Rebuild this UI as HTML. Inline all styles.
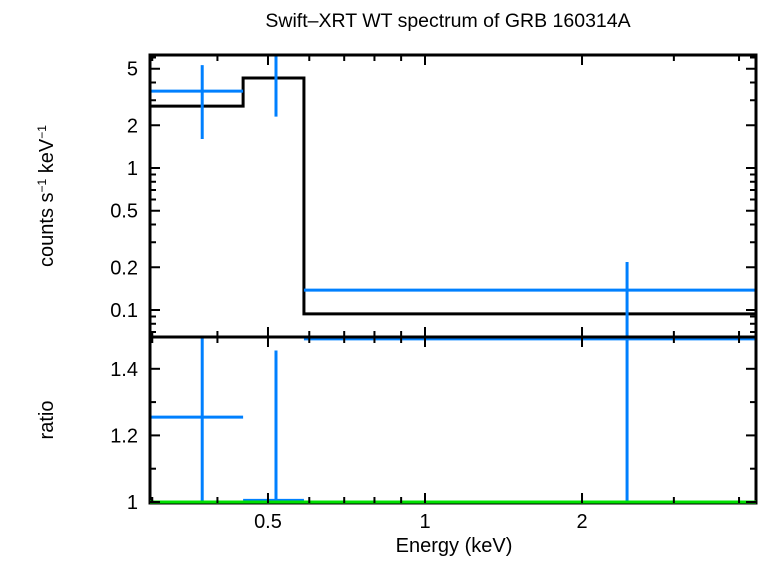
<!DOCTYPE html>
<html><head><meta charset="utf-8"><style>
body{margin:0;background:#fff;}
svg text{font-family:"Liberation Sans",sans-serif;}
</style></head><body>
<svg id="chart" width="758" height="556" xmlns="http://www.w3.org/2000/svg">
<text x="448" y="27" font-size="19.5" text-anchor="middle">Swift–XRT WT spectrum of GRB 160314A</text>
<g id="marks"></g>
<text x="454" y="552" font-size="20" text-anchor="middle">Energy (keV)</text>
<text transform="translate(53,196) rotate(-90)" font-size="20" text-anchor="middle">counts s<tspan font-size="12" dy="-7">−1</tspan><tspan dy="7"> keV</tspan><tspan font-size="12" dy="-7">−1</tspan></text>
<text transform="translate(53,420) rotate(-90)" font-size="20" text-anchor="middle">ratio</text>
</svg>
<script>
const modelLo=[0.298,0.448,0.586];
const modelHi=[0.448,0.586,4.31];
const modelVal=[2.73,4.3,0.094];
const dataE=[0.374,0.518,2.44];
const dataLo=[0.298,0.448,0.586];
const dataHi=[0.448,0.586,4.31];
const dataVal=[3.48,7.5,0.138];
const dataErrLo=[1.6,2.3,0.05];
const dataErrHi=[5.3,12,0.218];
const ratioVal=[1.255,1.005,1.49];
const ratioErrLo=[0.9,0.9,0.9];
const ratioErrHi=[1.7,1.455,1.7];
const xTickLabels=[0.5,1,2];
const yTopLabels=[0.1,0.2,0.5,1,2,5];
const yBotLabels=[1,1.2,1.4];

const L=150,R=756,T1=55,B1=337,T2=337,B2=503;
const X=e=>425+521.6*Math.log10(e);
const Y1=v=>168-142*Math.log10(v);
const Y2=v=>502-333*(v-1);
const NS="http://www.w3.org/2000/svg";
const g=document.getElementById('marks');
function el(tag,attrs,name){const e=document.createElementNS(NS,tag);for(const k in attrs)e.setAttribute(k,attrs[k]);


g.appendChild(e);return e;}
const defs=document.createElementNS(NS,'defs');
defs.innerHTML='<clipPath id="c1"><rect x="150" y="55" width="606" height="282"/></clipPath><clipPath id="c2"><rect x="150" y="337" width="606" height="166"/></clipPath>';
document.getElementById('chart').insertBefore(defs,g);
const gt=el('g',{'clip-path':'url(#c1)'},'top-panel-marks');
const gb=el('g',{'clip-path':'url(#c2)'},'bottom-panel-marks');
function ln(par,x1,y1,x2,y2,c,w,name){const e=document.createElementNS(NS,'line');
e.setAttribute('x1',x1);e.setAttribute('y1',y1);e.setAttribute('x2',x2);e.setAttribute('y2',y2);e.setAttribute('stroke',c);e.setAttribute('stroke-width',w);


par.appendChild(e);}
let d='';
for(let i=0;i<modelVal.length;i++){d+=(i?'L':'M')+X(modelLo[i])+','+Y1(modelVal[i])+'L'+X(modelHi[i])+','+Y1(modelVal[i]);}
const p=document.createElementNS(NS,'path');p.setAttribute('d',d);p.setAttribute('fill','none');p.setAttribute('stroke','#000');p.setAttribute('stroke-width','3');


gt.appendChild(p);
const blue='#0080ff';
for(let i=0;i<dataVal.length;i++){
ln(gt,X(dataLo[i]),Y1(dataVal[i]),X(dataHi[i]),Y1(dataVal[i]),blue,3,'data-xbar');
ln(gt,X(dataE[i]),Y1(dataErrLo[i]),X(dataE[i]),Y1(dataErrHi[i]),blue,3,'data-errbar');
ln(gb,X(dataLo[i]),Y2(ratioVal[i]),X(dataHi[i]),Y2(ratioVal[i]),blue,3,'ratio-xbar');
ln(gb,X(dataE[i]),Y2(ratioErrLo[i]),X(dataE[i]),Y2(ratioErrHi[i]),blue,3,'ratio-errbar');
}
el('rect',{x:L,y:T1,width:R-L,height:B1-T1,fill:'none',stroke:'#000','stroke-width':3},'top-panel-frame');
el('rect',{x:L,y:T2,width:R-L,height:B2-T2,fill:'none',stroke:'#000','stroke-width':3},'bottom-panel-frame');
ln(g,L,Y2(1),R,Y2(1),'#00e000',3,'ratio-unity-line');
const xt=[0.3,0.4,0.5,0.6,0.7,0.8,0.9,1,2,3,4];
xt.forEach(e=>{const x=X(e);if(x<L||x>R)return;const maj=xTickLabels.includes(e);const s=maj?10:6;
[[T1,1],[B1,-1],[T2,1],[B2,-1]].forEach(([y,dir])=>ln(g,x,y,x,y+dir*s,'#000',2,'x-tick'));});
xTickLabels.forEach(v=>{const t=el('text',{x:X(v),y:528,'font-size':20,'text-anchor':'middle'},'x-tick-label');t.textContent=v;});
const yt=[0.07,0.08,0.09,0.1,0.2,0.3,0.4,0.5,0.6,0.7,0.8,0.9,1,2,3,4,5,6];
yt.forEach(v=>{const y=Y1(v);if(y<T1||y>B1)return;const s=yTopLabels.includes(v)?10:6;
ln(g,L,y,L+s,y,'#000',2,'y-top-tick');ln(g,R,y,R-s,y,'#000',2,'y-top-tick');});
yTopLabels.forEach(v=>{const t=el('text',{x:138,y:Y1(v)+7,'font-size':20,'text-anchor':'end'},'y-top-tick-label');t.textContent=v;});
[1,1.1,1.2,1.3,1.4,1.5].forEach(v=>{const y=Y2(v);if(y<T2)return;const s=yBotLabels.includes(v)?10:6;
ln(g,L,y,L+s,y,'#000',2,'y-bottom-tick');ln(g,R,y,R-s,y,'#000',2,'y-bottom-tick');});
yBotLabels.forEach(v=>{const t=el('text',{x:138,y:Y2(v)+7,'font-size':20,'text-anchor':'end'},'y-bottom-tick-label');t.textContent=v;});
</script>
</body></html>
